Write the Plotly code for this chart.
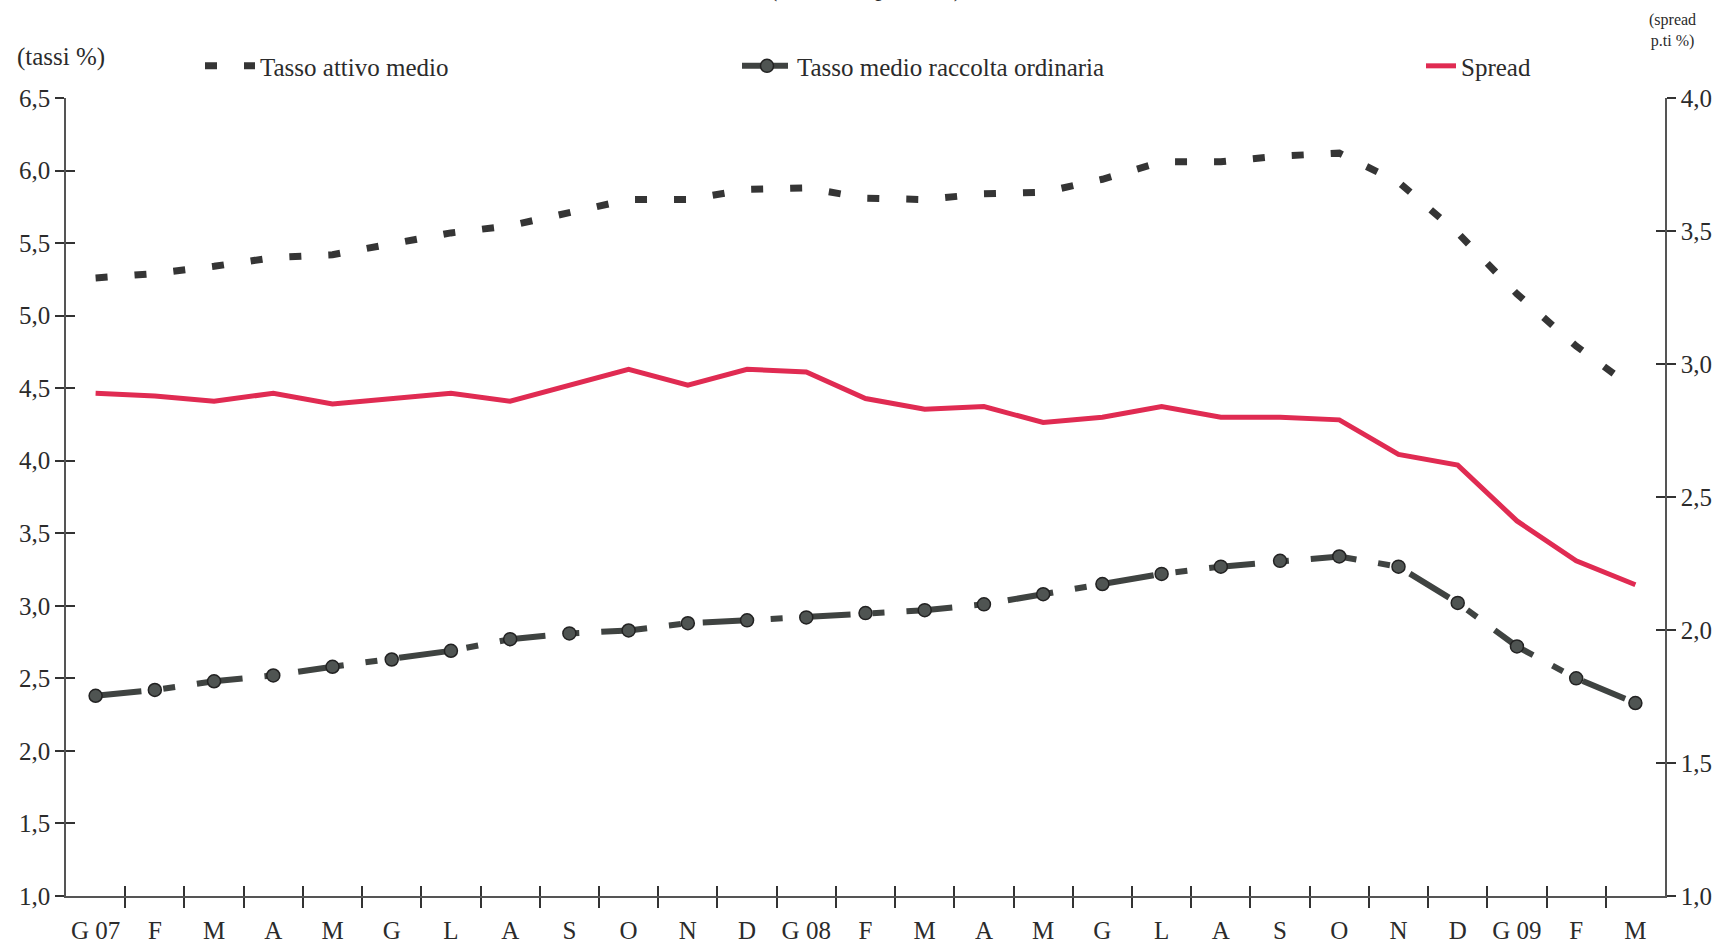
import plotly.graph_objects as go

months = ["G 07", "F", "M", "A", "M", "G", "L", "A", "S", "O", "N", "D",
          "G 08", "F", "M", "A", "M", "G", "L", "A", "S", "O", "N", "D",
          "G 09", "F", "M"]

tasso_attivo = [5.26, 5.29, 5.34, 5.40, 5.42, 5.49, 5.57, 5.62, 5.71, 5.80, 5.80, 5.87,
                5.88, 5.81, 5.80, 5.84, 5.85, 5.94, 6.06, 6.06, 6.10, 6.12, 5.92, 5.57,
                5.15, 4.79, 4.49]

tasso_raccolta = [2.38, 2.42, 2.48, 2.52, 2.58, 2.63, 2.69, 2.77, 2.81, 2.83, 2.88, 2.90,
                  2.92, 2.95, 2.97, 3.01, 3.08, 3.15, 3.22, 3.27, 3.31, 3.34, 3.27, 3.02,
                  2.72, 2.50, 2.33]

spread = [2.89, 2.88, 2.86, 2.89, 2.85, 2.87, 2.89, 2.86, 2.92, 2.98, 2.92, 2.98,
          2.97, 2.87, 2.83, 2.84, 2.78, 2.80, 2.84, 2.80, 2.80, 2.79, 2.66, 2.62,
          2.41, 2.26, 2.17]

left_ticks = [1.0, 1.5, 2.0, 2.5, 3.0, 3.5, 4.0, 4.5, 5.0, 5.5, 6.0, 6.5]
right_ticks = [1.0, 1.5, 2.0, 2.5, 3.0, 3.5, 4.0]

FONT = "Liberation Serif"
TXT = "#2b2b2b"
AX = "#555555"
TK = "#333333"

xpos = list(range(len(months)))
bounds = [i + 0.5 for i in xpos[:-1]]
xr = [-0.5, len(months) - 0.5]

fig = go.Figure()

fig.add_trace(go.Scatter(
    x=xpos, y=tasso_attivo, name="Tasso attivo medio", mode="lines",
    line=dict(color="#353535", width=7, dash="12px,27px"),
    legend="legend", hoverinfo="y"))

fig.add_trace(go.Scatter(
    x=xpos, y=tasso_raccolta, name="Tasso medio raccolta ordinaria", mode="lines+markers",
    line=dict(color="#3f4341", width=6, dash="46px,22px,12px,22px"),
    marker=dict(symbol="circle", size=13, color="#4f5452", line=dict(color="#222", width=1.5)),
    legend="legend2", hoverinfo="y"))

fig.add_trace(go.Scatter(
    x=xpos, y=spread, name="Spread", mode="lines", yaxis="y2",
    line=dict(color="#E02B52", width=5),
    legend="legend3", hoverinfo="y"))

# empty helper traces so the overlay axes (inner halves of the crossing ticks) are drawn
for xa, ya in [("x2", "y"), ("x", "y3"), ("x", "y4")]:
    fig.add_trace(go.Scatter(x=[None], y=[None], xaxis=xa, yaxis=ya, mode="lines",
                             showlegend=False, hoverinfo="skip"))

tickfont = dict(family=FONT, size=25, color=TXT)

fig.update_layout(
    width=1720, height=946,
    margin=dict(l=66, r=55, t=98, b=50, autoexpand=False),
    paper_bgcolor="white", plot_bgcolor="white",
    separators=", ",
    font=dict(family=FONT, size=25, color=TXT),
    xaxis=dict(range=xr, tickmode="array", tickvals=xpos, ticktext=months,
               ticks="", showgrid=False, zeroline=False, automargin=False,
               showline=True, linecolor=AX, linewidth=1.5,
               tickfont=tickfont, ticklabelstandoff=11,
               minor=dict(tickmode="array", tickvals=bounds, ticks="outside",
                          ticklen=10, tickwidth=1.5, tickcolor=TK, showgrid=False)),
    xaxis2=dict(range=xr, overlaying="x", anchor="y", side="bottom", automargin=False,
                tickmode="array", tickvals=bounds, ticks="inside", ticklen=10,
                tickwidth=1.5, tickcolor=TK, showticklabels=False,
                showgrid=False, zeroline=False, showline=False),
    yaxis=dict(range=[1.0, 6.5], tickmode="array", tickvals=left_ticks, tickformat=".1f",
               ticks="outside", ticklen=9, tickwidth=1.5, tickcolor=TK, automargin=False,
               showgrid=False, zeroline=False, showline=True, linecolor=AX, linewidth=1.5,
               tickfont=tickfont),
    yaxis2=dict(range=[1.0, 4.0], tickmode="array", tickvals=right_ticks, tickformat=".1f",
                overlaying="y", side="right", anchor="x", automargin=False,
                ticks="outside", ticklen=9, tickwidth=1.5, tickcolor=TK,
                showgrid=False, zeroline=False, showline=True, linecolor=AX, linewidth=1.5,
                tickfont=tickfont),
    yaxis3=dict(range=[1.0, 6.5], tickmode="array", tickvals=left_ticks, overlaying="y",
                side="left", anchor="x", ticks="inside", ticklen=9, tickwidth=1.5,
                tickcolor=TK, showticklabels=False, showgrid=False, zeroline=False,
                showline=False, automargin=False),
    yaxis4=dict(range=[1.0, 4.0], tickmode="array", tickvals=right_ticks, overlaying="y",
                side="right", anchor="x", ticks="inside", ticklen=9, tickwidth=1.5,
                tickcolor=TK, showticklabels=False, showgrid=False, zeroline=False,
                showline=False, automargin=False),
    showlegend=True,
    legend=dict(x=(200 - 66) / 1599, y=1.04, xanchor="left", yanchor="middle", itemwidth=50,
                bgcolor="rgba(0,0,0,0)", font=dict(family=FONT, size=25, color=TXT)),
    legend2=dict(x=(737 - 66) / 1599, y=1.04, xanchor="left", yanchor="middle", itemwidth=50,
                 bgcolor="rgba(0,0,0,0)", font=dict(family=FONT, size=25, color=TXT)),
    legend3=dict(x=(1421 - 66) / 1599, y=1.04, xanchor="left", yanchor="middle",
                 bgcolor="rgba(0,0,0,0)", font=dict(family=FONT, size=25, color=TXT)),
    annotations=[
        dict(text="(tassi %)", xref="paper", yref="paper", x=-0.032, y=1.052,
             xanchor="left", yanchor="middle", showarrow=False,
             font=dict(family=FONT, size=25, color=TXT)),
        dict(text="(spread<br>p.ti %)", xref="paper", yref="paper", x=1.005, y=1.085,
             xanchor="center", yanchor="middle", showarrow=False, align="center",
             font=dict(family=FONT, size=16, color=TXT)),
        dict(text="(valori %, punti %)", xref="paper", yref="paper", x=0.5, y=1.118,
             xanchor="center", yanchor="bottom", showarrow=False,
             font=dict(family=FONT, size=25, color=TXT)),
    ],
)

fig.write_html("out.html")
